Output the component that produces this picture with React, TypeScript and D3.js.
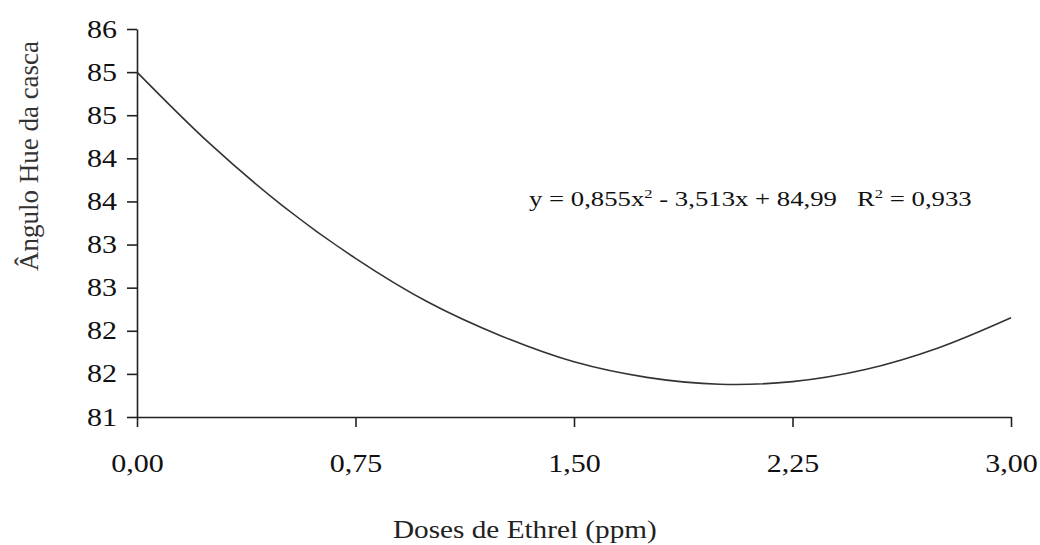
import React, { useRef, useEffect } from "react";
import * as d3 from "d3";

// values
const doses = [0, 0.25, 0.5, 0.75, 1.0, 1.25, 1.5, 1.75, 2.0, 2.25, 2.5, 2.75, 3.0];
const hueValues = [85.0, 84.17, 83.45, 82.84, 82.33, 81.94, 81.64, 81.46, 81.38, 81.41, 81.55, 81.8, 82.15];
const xTicks = [0, 0.75, 1.5, 2.25, 3.0];
const yTicks = [81, 81.5, 82, 82.5, 83, 83.5, 84, 84.5, 85, 85.5];

const xTitle = "Doses de Ethrel (ppm)";
const yTitle = "Ângulo Hue da casca";

const FONT = "Liberation Serif, Times New Roman, serif";
const STRETCH = 1.2; // the original text looks a bit wide

const App = () => {
    const d3Container = useRef<SVGSVGElement | null>(null);

    const drawChart = () => {
        const svg = d3.select(d3Container.current);

        const x = d3.scaleLinear().domain([0, 3]).range([137, 1011]);
        const y = d3.scaleLinear().domain([81, 85.5]).range([417, 29]);

        const xAxis = d3.axisBottom(x)
            .tickValues(xTicks)
            .tickSize(10)
            .tickSizeOuter(0)
            .tickPadding(27)
            .tickFormat(d => d3.format(".2f")(d as number).replace(".", ","));
        const yAxis = d3.axisLeft(y)
            .tickValues(yTicks)
            .tickSize(10)
            .tickSizeOuter(0)
            .tickPadding(10)
            .tickFormat(d => String(Math.round(d as number)));

        const gx = svg.append("g")
            .attr("transform", `translate(0,${y(81)})`)
            .call(xAxis);
        const gy = svg.append("g")
            .attr("transform", `translate(${x(0)},0)`)
            .call(yAxis);

        [gx, gy].forEach(g => {
            g.attr("font-family", FONT).attr("font-size", 25);
            g.select(".domain").attr("stroke", "#222").attr("stroke-width", 1.6);
            g.selectAll(".tick line").attr("stroke", "#222").attr("stroke-width", 1.6);
            g.selectAll(".tick text")
                .attr("fill", "#111")
                .attr("font-family", FONT)
                .attr("font-size", 25);
        });
        gx.selectAll(".tick text").attr("transform", `scale(${STRETCH},1)`);
        gy.selectAll(".tick text")
            .attr("x", -20 / STRETCH)
            .attr("transform", `scale(${STRETCH},1)`);

        // the fitted curve
        const line = d3.line<number>()
            .x((_, i) => x(doses[i]))
            .y(d => y(d))
            .curve(d3.curveCatmullRom);

        svg.append("path")
            .datum(hueValues)
            .attr("d", line)
            .attr("fill", "none")
            .attr("stroke", "#333")
            .attr("stroke-width", 1.6);

        // equation, stretched to the width it has in the original
        const eqG = svg.append("g");
        const eq = eqG.append("text")
            .attr("fill", "#111")
            .attr("font-family", FONT)
            .attr("font-size", 21)
            .style("white-space", "pre");
        eq.append("tspan").text("y = 0,855x");
        eq.append("tspan").attr("dy", -8).attr("font-size", 13).text("2");
        eq.append("tspan").attr("dy", 8).text(" - 3,513x + 84,99   R");
        eq.append("tspan").attr("dy", -8).attr("font-size", 13).text("2");
        eq.append("tspan").attr("dy", 8).text(" = 0,933");
        const eqW = (eq.node() as SVGTextElement).getBBox().width || 1;
        eqG.attr("transform", `translate(529,206) scale(${443 / eqW},1)`);

        const xtG = svg.append("g");
        const xt = xtG.append("text")
            .attr("fill", "#222")
            .attr("font-family", FONT)
            .attr("font-size", 25)
            .text(xTitle);
        const xtW = (xt.node() as SVGTextElement).getBBox().width || 1;
        xtG.attr("transform", `translate(393,538) scale(${264 / xtW},1)`);

        svg.append("text")
            .attr("transform", `translate(38,156) rotate(-90)`)
            .attr("text-anchor", "middle")
            .attr("fill", "#333")
            .attr("font-family", FONT)
            .attr("font-size", 27)
            .text(yTitle);
    };

    useEffect(() => {
        if (d3Container.current) {
            d3.select(d3Container.current).selectAll("*").remove();
            drawChart();
        }
    }, []);

    return (
        <svg
            ref={d3Container}
            width={1040}
            height={545}
            style={{ position: "absolute", left: 0, top: 0, background: "#fff" }}
        />
    );
};

export default App;
